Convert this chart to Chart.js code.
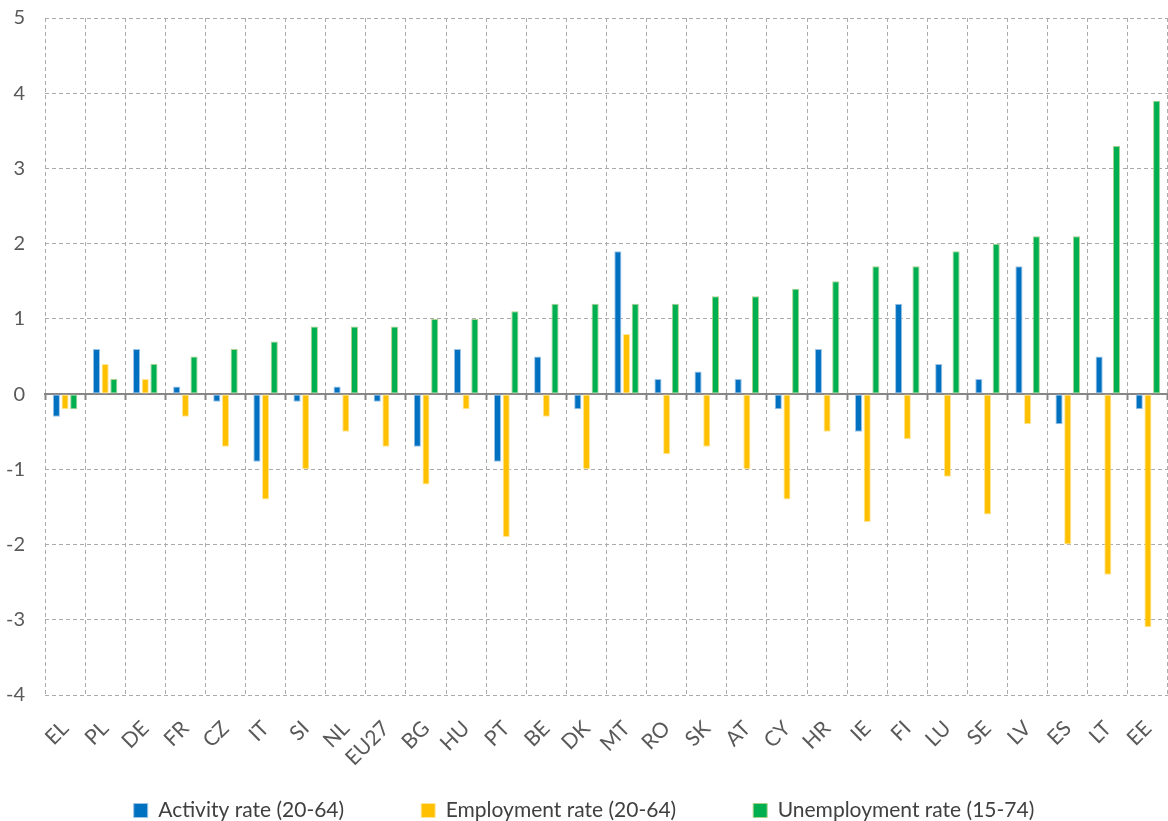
<!DOCTYPE html>
<html>
<head>
<meta charset="utf-8">
<script src="https://cdn.jsdelivr.net/npm/chart.js@4"></script>
<style>
  body { margin: 0; background: #fff; }
  #wrap { width: 1168px; height: 821px; }
</style>
</head>
<body>
<div id="wrap"><canvas id="chart1"></canvas></div>
<script>
// values
let countries = ["EL", "PL", "DE", "FR", "CZ", "IT", "SI", "NL", "EU27", "BG", "HU", "PT", "BE", "DK",
    "MT", "RO", "SK", "AT", "CY", "HR", "IE", "FI", "LU", "SE", "LV", "ES", "LT", "EE"];
let activity = [-0.3, 0.6, 0.6, 0.1, -0.1, -0.9, -0.1, 0.1, -0.1, -0.7, 0.6, -0.9, 0.5, -0.2,
    1.9, 0.2, 0.3, 0.2, -0.2, 0.6, -0.5, 1.2, 0.4, 0.2, 1.7, -0.4, 0.5, -0.2];
let employment = [-0.2, 0.4, 0.2, -0.3, -0.7, -1.4, -1.0, -0.5, -0.7, -1.2, -0.2, -1.9, -0.3, -1.0,
    0.8, -0.8, -0.7, -1.0, -1.4, -0.5, -1.7, -0.6, -1.1, -1.6, -0.4, -2.0, -2.4, -3.1];
let unemployment = [-0.2, 0.2, 0.4, 0.5, 0.6, 0.7, 0.9, 0.9, 0.9, 1.0, 1.0, 1.1, 1.2, 1.2,
    1.2, 1.2, 1.3, 1.3, 1.4, 1.5, 1.7, 1.7, 1.9, 2.0, 2.1, 2.1, 3.3, 3.9];

var fontName = "Lato, 'Open Sans', sans-serif";
var gridGray = "#ababab";

var ctx = document.getElementById('chart1').getContext('2d');
var data = {
    labels: countries,
    datasets: [{
        label: "Activity rate (20-64)",
        backgroundColor: "#0070c0",
        borderColor: "#9dc3e6",
        data: activity
    }, {
        label: "Employment rate (20-64)",
        backgroundColor: "#ffc000",
        borderColor: "#ffe699",
        data: employment
    }, {
        label: "Unemployment rate (15-74)",
        backgroundColor: "#00b050",
        borderColor: "#a9d18e",
        data: unemployment
    }]
};

// x labels hang down into the empty space above the legend row
var labelRoom = {
    id: 'labelRoom',
    afterLayout: function(chart) {
        chart.scales.x.bottom = chart.height;
    }
};

var options = {
    responsive: true,
    maintainAspectRatio: false,
    animation: false,
    layout: { padding: { top: 18, right: 0, left: 0, bottom: -10 } },
    datasets: {
        bar: {
            categoryPercentage: 0.65,
            barPercentage: 0.82,
            borderWidth: 1,
            borderSkipped: false
        }
    },
    plugins: {
        legend: {
            position: 'bottom',
            labels: {
                boxWidth: 14,
                boxHeight: 14,
                padding: 77,
                color: "#404040",
                font: { family: fontName, size: 21 }
            }
        },
        tooltip: { enabled: false }
    },
    scales: {
        x: {
            offset: true,
            grid: { offset: true, color: gridGray, lineWidth: 1, drawTicks: false },
            border: { display: false, dash: [4, 3] },
            ticks: {
                minRotation: 45,
                maxRotation: 45,
                padding: 21,
                color: "#595959",
                font: { family: fontName, size: 21 }
            },
            afterFit: function(s) { s.paddingLeft = 0; s.paddingRight = 0; s.height = 28; }
        },
        x2: {
            type: 'category',
            labels: countries,
            position: { y: 0 },
            offset: true,
            grid: { offset: true, drawOnChartArea: false, drawTicks: true, tickLength: 5, tickWidth: 2, tickColor: "#868686" },
            border: { display: true, color: "#868686", width: 2 },
            ticks: { display: false }
        },
        y: {
            min: -4,
            max: 5,
            ticks: {
                stepSize: 1,
                padding: 20,
                color: "#595959",
                font: { family: fontName, size: 20 }
            },
            grid: {
                drawTicks: false,
                color: function(c) { return c.tick && c.tick.value === 0 ? 'rgba(0,0,0,0)' : gridGray; }
            },
            border: { display: false, dash: [4, 3] },
            afterFit: function(s) { s.width = 45; s.paddingTop = 0; s.paddingBottom = 0; }
        }
    }
};

var chart = new Chart(ctx, {
    type: 'bar',
    data: data,
    options: options,
    plugins: [labelRoom]
});
</script>
</body>
</html>
